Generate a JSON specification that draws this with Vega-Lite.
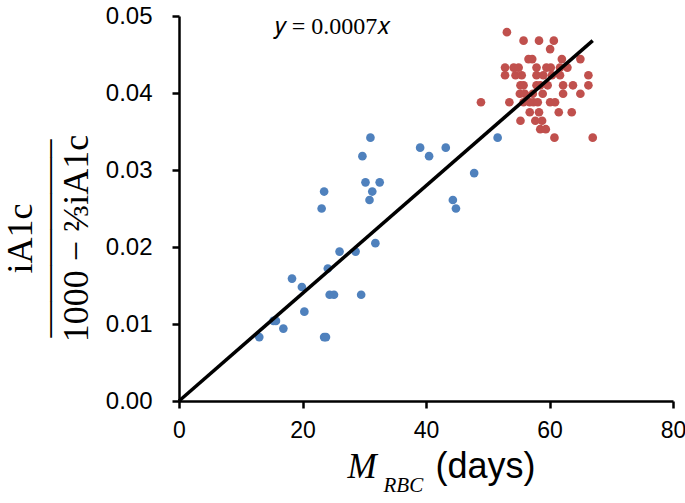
{
  "$schema": "https://vega.github.io/schema/vega-lite/v6.json",
  "width": 494,
  "height": 385,
  "autosize": "none",
  "padding": {"left": 179, "top": 16, "right": 12, "bottom": 102},
  "background": "white",
  "config": {"view": {"stroke": null}, "axis": {"grid": false}},
  "resolve": {"axis": {"x": "independent"}},
  "layer": [
    {
      "data": {"values": [
        {"M": 31.0, "R": 0.0342, "g": "a"},
        {"M": 29.7, "R": 0.0318, "g": "a"},
        {"M": 30.2, "R": 0.0284, "g": "a"},
        {"M": 32.5, "R": 0.0284, "g": "a"},
        {"M": 31.3, "R": 0.0272, "g": "a"},
        {"M": 30.85, "R": 0.0261, "g": "a"},
        {"M": 23.5, "R": 0.0272, "g": "a"},
        {"M": 23.1, "R": 0.0250, "g": "a"},
        {"M": 31.8, "R": 0.0205, "g": "a"},
        {"M": 26.0, "R": 0.0194, "g": "a"},
        {"M": 28.6, "R": 0.0194, "g": "a"},
        {"M": 24.1, "R": 0.0172, "g": "a"},
        {"M": 18.3, "R": 0.0159, "g": "a"},
        {"M": 19.9, "R": 0.0148, "g": "a"},
        {"M": 24.4, "R": 0.0138, "g": "a"},
        {"M": 25.1, "R": 0.0138, "g": "a"},
        {"M": 29.5, "R": 0.0138, "g": "a"},
        {"M": 20.3, "R": 0.0116, "g": "a"},
        {"M": 15.3, "R": 0.0104, "g": "a"},
        {"M": 15.7, "R": 0.0104, "g": "a"},
        {"M": 16.9, "R": 0.0094, "g": "a"},
        {"M": 13.0, "R": 0.0083, "g": "a"},
        {"M": 23.5, "R": 0.0083, "g": "a"},
        {"M": 23.8, "R": 0.0083, "g": "a"},
        {"M": 39.05, "R": 0.0329, "g": "a"},
        {"M": 40.5, "R": 0.0318, "g": "a"},
        {"M": 43.2, "R": 0.0329, "g": "a"},
        {"M": 51.6, "R": 0.0342, "g": "a"},
        {"M": 47.8, "R": 0.0296, "g": "a"},
        {"M": 44.35, "R": 0.0261, "g": "a"},
        {"M": 44.85, "R": 0.0250, "g": "a"},
        {"M": 53.1, "R": 0.0479, "g": "b"},
        {"M": 55.8, "R": 0.0468, "g": "b"},
        {"M": 58.3, "R": 0.0468, "g": "b"},
        {"M": 60.7, "R": 0.0468, "g": "b"},
        {"M": 60.1, "R": 0.0457, "g": "b"},
        {"M": 56.6, "R": 0.0444, "g": "b"},
        {"M": 57.2, "R": 0.0444, "g": "b"},
        {"M": 62.0, "R": 0.0444, "g": "b"},
        {"M": 65.0, "R": 0.0444, "g": "b"},
        {"M": 52.8, "R": 0.0433, "g": "b"},
        {"M": 54.2, "R": 0.0433, "g": "b"},
        {"M": 55.0, "R": 0.0433, "g": "b"},
        {"M": 57.9, "R": 0.0433, "g": "b"},
        {"M": 59.5, "R": 0.0433, "g": "b"},
        {"M": 60.2, "R": 0.0433, "g": "b"},
        {"M": 61.7, "R": 0.0433, "g": "b"},
        {"M": 62.9, "R": 0.0433, "g": "b"},
        {"M": 52.8, "R": 0.0423, "g": "b"},
        {"M": 54.5, "R": 0.0423, "g": "b"},
        {"M": 55.5, "R": 0.0423, "g": "b"},
        {"M": 57.9, "R": 0.0423, "g": "b"},
        {"M": 59.0, "R": 0.0423, "g": "b"},
        {"M": 60.4, "R": 0.0423, "g": "b"},
        {"M": 61.7, "R": 0.0423, "g": "b"},
        {"M": 66.3, "R": 0.0423, "g": "b"},
        {"M": 55.3, "R": 0.0410, "g": "b"},
        {"M": 55.8, "R": 0.0410, "g": "b"},
        {"M": 57.9, "R": 0.0410, "g": "b"},
        {"M": 58.5, "R": 0.0410, "g": "b"},
        {"M": 59.7, "R": 0.0410, "g": "b"},
        {"M": 62.2, "R": 0.0410, "g": "b"},
        {"M": 63.8, "R": 0.0410, "g": "b"},
        {"M": 66.3, "R": 0.0410, "g": "b"},
        {"M": 55.2, "R": 0.0399, "g": "b"},
        {"M": 56.0, "R": 0.0399, "g": "b"},
        {"M": 57.3, "R": 0.0399, "g": "b"},
        {"M": 58.9, "R": 0.0399, "g": "b"},
        {"M": 62.2, "R": 0.0399, "g": "b"},
        {"M": 65.0, "R": 0.0399, "g": "b"},
        {"M": 48.9, "R": 0.0388, "g": "b"},
        {"M": 53.5, "R": 0.0388, "g": "b"},
        {"M": 55.8, "R": 0.0388, "g": "b"},
        {"M": 56.8, "R": 0.0388, "g": "b"},
        {"M": 57.4, "R": 0.0388, "g": "b"},
        {"M": 58.1, "R": 0.0388, "g": "b"},
        {"M": 60.1, "R": 0.0388, "g": "b"},
        {"M": 60.9, "R": 0.0388, "g": "b"},
        {"M": 56.8, "R": 0.0375, "g": "b"},
        {"M": 58.3, "R": 0.0375, "g": "b"},
        {"M": 61.5, "R": 0.0375, "g": "b"},
        {"M": 63.6, "R": 0.0375, "g": "b"},
        {"M": 55.3, "R": 0.0364, "g": "b"},
        {"M": 57.7, "R": 0.0364, "g": "b"},
        {"M": 58.8, "R": 0.0364, "g": "b"},
        {"M": 58.5, "R": 0.0353, "g": "b"},
        {"M": 59.4, "R": 0.0353, "g": "b"},
        {"M": 60.8, "R": 0.0342, "g": "b"},
        {"M": 67.0, "R": 0.0342, "g": "b"}
      ]},
      "mark": {"type": "circle", "size": 75, "opacity": 1},
      "encoding": {
        "x": {
          "field": "M", "type": "quantitative",
          "scale": {"domain": [0, 80], "nice": false},
          "axis": {
            "orient": "bottom",
            "values": [0, 20, 40, 60, 80],
            "labelFont": "Liberation Sans", "labelFontSize": 23, "labelColor": "black",
            "labelPadding": 11, "labelFlush": false,
            "domainColor": "black", "domainWidth": 2.5,
            "tickColor": "black", "tickWidth": 2.5, "tickSize": 7,
            "title": "M",
            "titleFont": "Liberation Serif", "titleFontStyle": "italic", "titleFontWeight": "normal",
            "titleFontSize": 35, "titleColor": "black",
            "titleAlign": "left", "titleBaseline": "alphabetic",
            "titleX": 168, "titleY": 76
          }
        },
        "y": {
          "field": "R", "type": "quantitative",
          "scale": {"domain": [0, 0.05], "nice": false},
          "axis": {
            "values": [0, 0.01, 0.02, 0.03, 0.04, 0.05],
            "format": ".2f",
            "labelFont": "Liberation Sans", "labelFontSize": 24, "labelColor": "black",
            "labelPadding": 20,
            "domainColor": "black", "domainWidth": 2.5,
            "tickColor": "black", "tickWidth": 2.5, "tickSize": 7,
            "title": ["iA1c", "—————–", "1000 − ⅔iA1c"],
            "titleFont": "Liberation Serif", "titleFontWeight": "normal",
            "titleFontSize": 36, "titleColor": "black",
            "titleLineHeight": 28,
            "titleAngle": 270, "titleAlign": "center", "titleBaseline": "middle",
            "titleX": -159, "titleY": 222
          }
        },
        "color": {
          "field": "g", "type": "nominal",
          "scale": {"domain": ["a", "b"], "range": ["#4F81BD", "#C0504D"]},
          "legend": null
        }
      }
    },
    {
      "data": {"values": [
        {"M": 0, "R": 0},
        {"M": 67, "R": 0.0468}
      ]},
      "mark": {"type": "line", "color": "black", "strokeWidth": 3.5},
      "encoding": {
        "x": {
          "field": "M", "type": "quantitative",
          "axis": {
            "orient": "bottom",
            "labels": false, "ticks": false, "domain": false,
            "title": "RBC",
            "titleFont": "Liberation Serif", "titleFontStyle": "italic", "titleFontWeight": "normal",
            "titleFontSize": 21, "titleColor": "black",
            "titleAlign": "left", "titleBaseline": "alphabetic",
            "titleX": 204, "titleY": 90
          }
        },
        "y": {"field": "R", "type": "quantitative"}
      }
    },
    {
      "data": {"values": [
        {"M": 15.5, "R": 0.0476, "label": "𝑦 = 0.0007𝑥"}
      ]},
      "mark": {"type": "text", "align": "left", "baseline": "alphabetic", "font": "Liberation Serif", "fontSize": 24, "color": "black"},
      "encoding": {
        "x": {
          "field": "M", "type": "quantitative",
          "axis": {
            "orient": "bottom",
            "labels": false, "ticks": false, "domain": false,
            "title": "(days)",
            "titleFont": "Liberation Sans", "titleFontWeight": "normal",
            "titleFontSize": 36, "titleColor": "black",
            "titleAlign": "left", "titleBaseline": "alphabetic",
            "titleX": 256, "titleY": 76
          }
        },
        "y": {"field": "R", "type": "quantitative"},
        "text": {"field": "label"}
      }
    }
  ]
}
